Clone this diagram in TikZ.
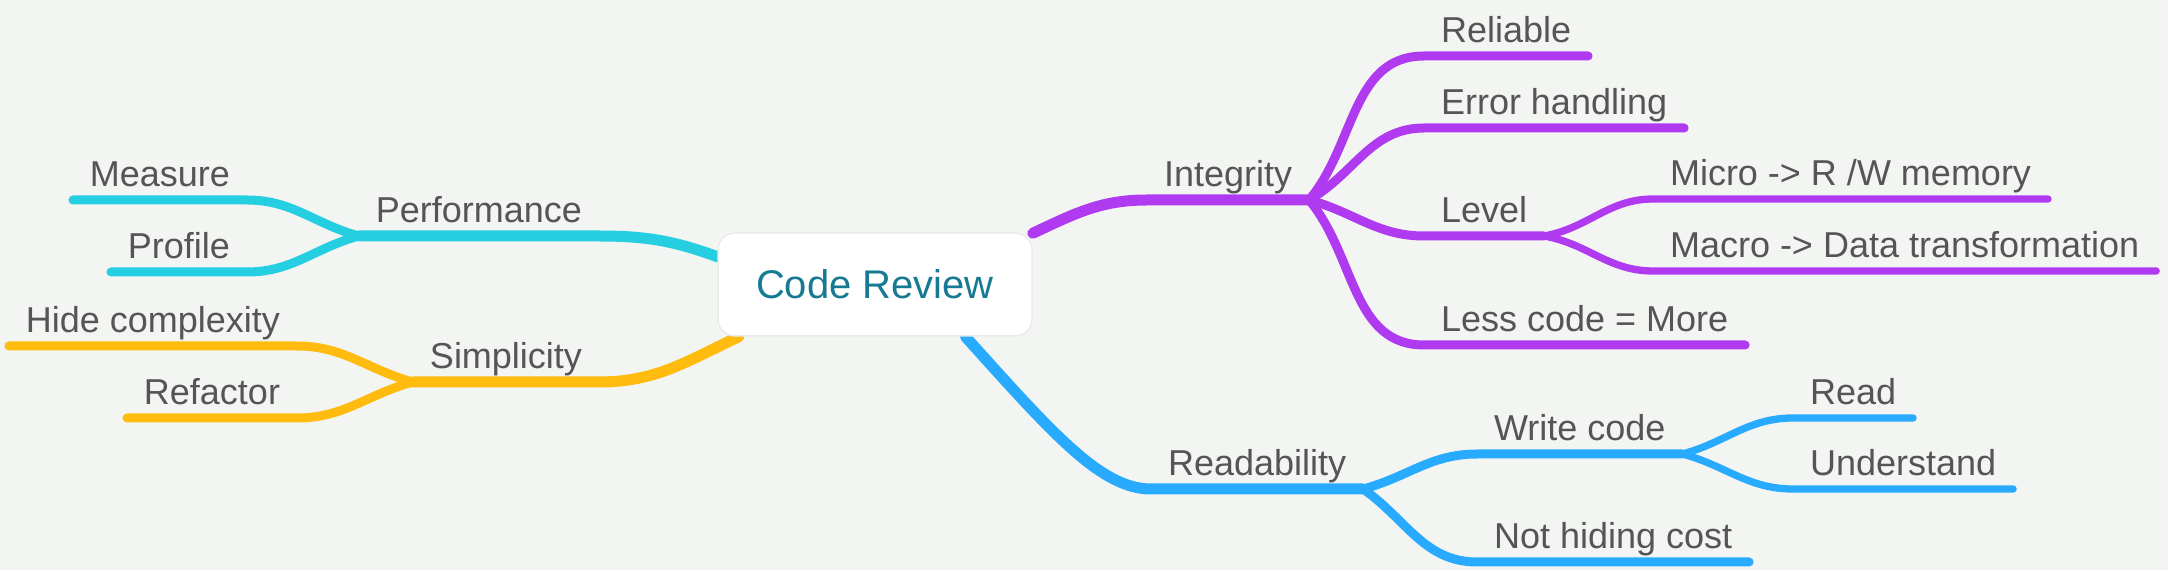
\documentclass[tikz,border=0pt]{standalone}
\usepackage{fontspec}
\setmainfont{Liberation Sans}
\usetikzlibrary{backgrounds}
\definecolor{paper}{RGB}{243,245,242}
\definecolor{labelgray}{RGB}{85,85,85}
\definecolor{rootteal}{RGB}{23,122,148}
\definecolor{rootedge}{RGB}{234,236,233}
\definecolor{perfcyan}{RGB}{38,206,226}
\definecolor{simpyellow}{RGB}{255,187,14}
\definecolor{integpurple}{RGB}{176,58,240}
\definecolor{readblue}{RGB}{40,170,254}
\tikzset{
  topicnode/.style = {font=\fontsize{36}{40}\selectfont, text=labelgray, inner xsep=17pt, inner ysep=13pt, text height=26pt, text depth=0pt, outer sep=0pt},
  RightNode/.style = {topicnode, anchor=south west},
  LeftNode/.style = {topicnode, anchor=south east},
  RootNode/.style = {rectangle, rounded corners=17pt, fill=white, draw=rootedge, line width=1.5pt, minimum width=314pt, minimum height=103pt, text=rootteal, font=\fontsize{40}{48}\selectfont},
  MainEdge/.style = {line width=11pt, line cap=round, line join=round},
  SubEdge/.style = {line width=9pt, line cap=round, line join=round},
  LeafEdge/.style = {line width=7.3pt, line cap=round, line join=round}
}
\begin{document}
\begin{tikzpicture}[x=1pt, y=1pt]
    \useasboundingbox (0,0) rectangle (2168,570);
    \node [RootNode] (root) at (875,285.5) {Code Review};
    \node [LeftNode] (perf) at (599,334) {Performance};
    \node [LeftNode] (measure) at (247,370) {Measure};
    \node [LeftNode] (profile) at (247,298) {Profile};
    \node [LeftNode] (simp) at (599,188) {Simplicity};
    \node [LeftNode] (hide) at (297,224) {Hide complexity};
    \node [LeftNode] (refactor) at (297,152) {Refactor};
    \node [RightNode] (integ) at (1147,370) {Integrity};
    \node [RightNode] (reliable) at (1424,514) {Reliable};
    \node [RightNode] (errhandle) at (1424,442) {Error handling};
    \node [RightNode] (level) at (1424,334) {Level};
    \node [RightNode] (micro) at (1653,371) {Micro -> R /W memory};
    \node [RightNode] (macro) at (1653,299) {Macro -> Data transformation};
    \node [RightNode] (lesscode) at (1424,225) {Less code = More};
    \node [RightNode] (readab) at (1151,81) {Readability};
    \node [RightNode] (writecode) at (1477,116) {Write code};
    \node [RightNode] (readleaf) at (1793,152) {Read};
    \node [RightNode] (understand) at (1793,81) {Understand};
    \node [RightNode] (nothiding) at (1477,8) {Not hiding cost};
    \begin{scope}[on background layer]
        \fill [paper] (0,0) rectangle (2168,570);
        \draw [MainEdge, perfcyan] (root.170) to[out=160, in=0] (perf.south east) -- (perf.south west);
        \draw [SubEdge, perfcyan] (perf.south west) to[out=165, in=0] (measure.south east) -- (measure.south west);
        \draw [SubEdge, perfcyan] (perf.south west) to[out=195, in=0] (profile.south east) -- (profile.south west);
        \draw [MainEdge, simpyellow] (root.201) to[out=205, in=0] (simp.south east) -- (simp.south west);
        \draw [SubEdge, simpyellow] (simp.south west) to[out=165, in=0] (hide.south east) -- (hide.south west);
        \draw [SubEdge, simpyellow] (simp.south west) to[out=195, in=0] (refactor.south east) -- (refactor.south west);
        \draw [MainEdge, integpurple] (root.18) to[out=25, in=180] (integ.south west) -- (integ.south east);
        \draw [SubEdge, integpurple] (integ.south east) to[out=50, in=180] (reliable.south west) -- (reliable.south east);
        \draw [SubEdge, integpurple] (integ.south east) to[out=30, in=180] (errhandle.south west) -- (errhandle.south east);
        \draw [SubEdge, integpurple] (integ.south east) to[out=-15, in=180] (level.south west) -- (level.south east);
        \draw [SubEdge, integpurple] (integ.south east) to[out=-50, in=180] (lesscode.south west) -- (lesscode.south east);
        \draw [LeafEdge, integpurple] (level.south east) to[out=10, in=180] (micro.south west) -- (micro.south east);
        \draw [LeafEdge, integpurple] (level.south east) to[out=-10, in=180] (macro.south west) -- (macro.south east);
        \draw [MainEdge, readblue] (root.-30) .. controls +(-48:130) and +(-50,0) .. (readab.south west) -- (readab.south east);
        \draw [SubEdge, readblue] (readab.south east) to[out=15, in=180] (writecode.south west) -- (writecode.south east);
        \draw [SubEdge, readblue] (readab.south east) to[out=-35, in=180] (nothiding.south west) -- (nothiding.south east);
        \draw [LeafEdge, readblue] (writecode.south east) to[out=15, in=180] (readleaf.south west) -- (readleaf.south east);
        \draw [LeafEdge, readblue] (writecode.south east) to[out=-15, in=180] (understand.south west) -- (understand.south east);
    \end{scope}
\end{tikzpicture}
\end{document}
